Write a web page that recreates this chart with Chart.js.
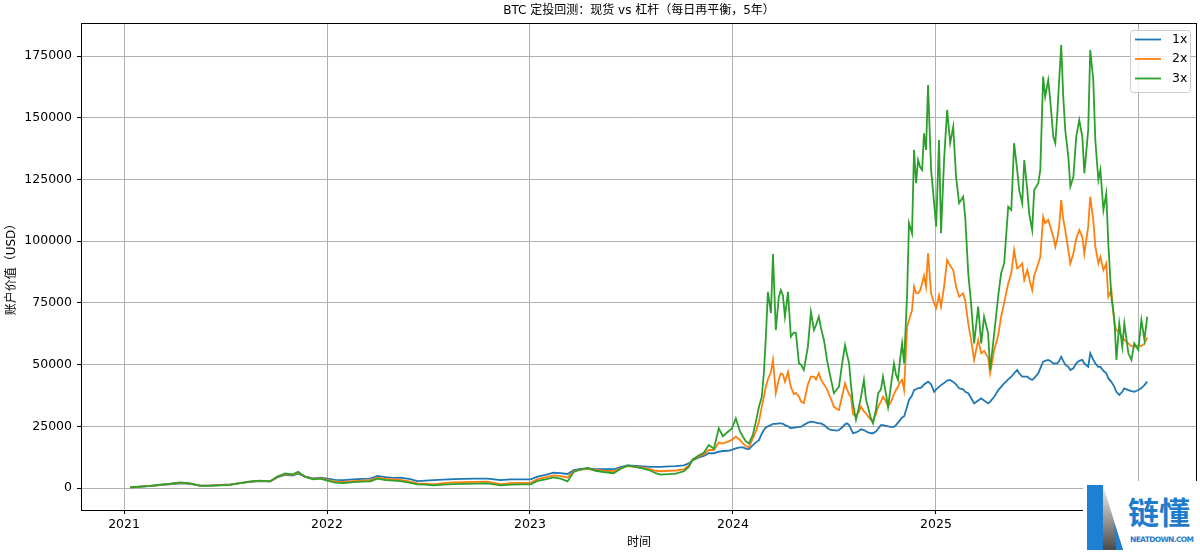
<!DOCTYPE html>
<html>
<head>
<meta charset="utf-8">
<script src="https://cdn.jsdelivr.net/npm/chart.js@4.4.1/dist/chart.umd.min.js"></script>
<style>
  html, body { margin: 0; padding: 0; background: #fff; }
  #wrap { position: relative; width: 1200px; height: 554px; }
  #logo { position: absolute; left: 1083px; top: 481px; width: 117px; height: 73px; background: #fff; }
</style>
</head>
<body>
<div id="wrap">
  <canvas id="chart"></canvas>
  <div id="logo">
    <svg width="117" height="73" viewBox="0 0 117 73">
      <defs>
        <linearGradient id="lg" x1="0" y1="0" x2="0" y2="1">
          <stop offset="0" stop-color="#f2f2f2"/>
          <stop offset="1" stop-color="#4a4a4a"/>
        </linearGradient>
      </defs>
      <polygon points="20,4 40,69 12,69 12,30" fill="url(#lg)"/>
      <rect x="4" y="4" width="16" height="65" fill="#1e80d2"/>
      <polygon points="31,42 40,69 33,69" fill="#1e80d2"/>
      <text x="45" y="43" font-size="31" font-weight="bold" fill="#1f7ccc" font-family="Noto Sans CJK SC">链懂</text>
      <text x="47" y="61" font-size="7.5" font-weight="bold" fill="#1f7ccc" font-family="DejaVu Sans" textLength="64">NEATDOWN.COM</text>
    </svg>
  </div>
</div>
<script>
// time in decimal years, account value in USD
const years = [
  2021.030, 2021.079, 2021.128, 2021.178, 2021.227, 2021.276, 2021.326, 2021.375, 2021.424, 2021.474,
  2021.523, 2021.572, 2021.622, 2021.671, 2021.720, 2021.755, 2021.794, 2021.829, 2021.858, 2021.893,
  2021.932, 2021.967, 2022.001, 2022.041, 2022.080, 2022.130, 2022.174, 2022.214, 2022.248, 2022.288,
  2022.327, 2022.362, 2022.411, 2022.445, 2022.485, 2022.524, 2022.574, 2022.623, 2022.672, 2022.731,
  2022.791, 2022.855, 2022.904, 2022.953, 2023.003, 2023.037, 2023.077, 2023.116, 2023.151, 2023.185,
  2023.215, 2023.249, 2023.284, 2023.323, 2023.363, 2023.412, 2023.447, 2023.481, 2023.521, 2023.555,
  2023.595, 2023.619, 2023.644, 2023.684, 2023.718, 2023.758, 2023.782, 2023.802, 2023.827, 2023.856,
  2023.881, 2023.906, 2023.930, 2023.950, 2023.975, 2023.994, 2024.014, 2024.034, 2024.049, 2024.063,
  2024.078, 2024.098, 2024.113, 2024.128, 2024.142, 2024.152, 2024.162, 2024.172, 2024.187, 2024.197,
  2024.211, 2024.226, 2024.236, 2024.246, 2024.256, 2024.271, 2024.285, 2024.300, 2024.310, 2024.325,
  2024.335, 2024.349, 2024.369, 2024.384, 2024.399, 2024.409, 2024.423, 2024.433, 2024.448, 2024.463,
  2024.473, 2024.488, 2024.497, 2024.512, 2024.522, 2024.537, 2024.552, 2024.562, 2024.572, 2024.581,
  2024.591, 2024.606, 2024.621, 2024.631, 2024.645, 2024.655, 2024.665, 2024.680, 2024.690, 2024.705,
  2024.715, 2024.729, 2024.739, 2024.754, 2024.764, 2024.779, 2024.793, 2024.803, 2024.813, 2024.823,
  2024.833, 2024.843, 2024.858, 2024.867, 2024.882, 2024.892, 2024.902, 2024.912, 2024.922, 2024.932,
  2024.941, 2024.951, 2024.961, 2024.976, 2024.991, 2025.001, 2025.015, 2025.025, 2025.040, 2025.055,
  2025.070, 2025.085, 2025.099, 2025.114, 2025.134, 2025.144, 2025.159, 2025.173, 2025.188, 2025.208,
  2025.223, 2025.237, 2025.257, 2025.267, 2025.287, 2025.307, 2025.321, 2025.336, 2025.356, 2025.371,
  2025.385, 2025.400, 2025.410, 2025.425, 2025.435, 2025.450, 2025.459, 2025.474, 2025.484, 2025.504,
  2025.514, 2025.528, 2025.538, 2025.553, 2025.563, 2025.578, 2025.588, 2025.598, 2025.607, 2025.617,
  2025.627, 2025.637, 2025.652, 2025.662, 2025.677, 2025.691, 2025.706, 2025.721, 2025.731, 2025.750,
  2025.760, 2025.775, 2025.785, 2025.800, 2025.810, 2025.825, 2025.839, 2025.849, 2025.864, 2025.879,
  2025.889, 2025.903, 2025.918, 2025.928, 2025.948, 2025.963, 2025.977, 2025.997, 2026.012, 2026.027, 2026.041
];

const spot1x = [
  300, 600, 800, 1200, 1500, 1900, 1700, 1000, 1100, 1300,
  1500, 2000, 2500, 2800, 2700, 4300, 5300, 5000, 5800, 4600,
  3900, 4200, 3800, 3300, 3200, 3500, 3700, 3800, 4900, 4400,
  4100, 4200, 3600, 2800, 3000, 3200, 3400, 3600, 3700, 3800,
  3800, 3200, 3500, 3500, 3500, 4600, 5300, 6200, 6000, 5700,
  7300, 7800, 8000, 7700, 7600, 7600, 8500, 9200, 9000, 8800,
  8600, 8600, 8600, 8800, 8900, 9200, 10000, 11300, 12200, 13000,
  14100, 14100, 14700, 15000, 15100, 15500, 16100, 16500, 16500, 16000,
  15700, 17400, 18500, 19400, 22000, 23500, 24500, 25000, 25500, 26000,
  26000, 26200, 26200, 26000, 25500, 25000, 24200, 24500, 24600, 24800,
  24800, 25500, 26500, 26900, 26700, 26500, 26200, 26200, 25500, 24500,
  23800, 23500, 23500, 23300, 23500, 24500, 25800, 26200, 25500, 24000,
  22200, 22500, 23200, 23800, 23500, 23000, 22500, 22200, 22200, 23000,
  24000, 25500, 25500, 25200, 25000, 24800, 24800, 25500, 26500, 27500,
  28600, 29000, 33000, 35700, 37500, 39700, 40000, 40500, 40500, 41000,
  42000, 42500, 43100, 42000, 39000, 40000, 41000, 41700, 42500, 43500,
  43800, 43000, 42000, 40400, 40000, 39000, 38400, 36500, 34300, 35500,
  36300, 35500, 34300, 35000, 37000, 39700, 41000, 42400, 44000, 45100,
  46500, 47800, 46500, 45100, 45100, 45100, 44500, 43800, 44500, 46500,
  48500, 51200, 51500, 51900, 51500, 50500, 50500, 50500, 51500, 53200,
  51500, 50000, 49100, 47800, 48500, 50500, 51500, 51900, 50500, 49100,
  54600, 52000, 50500, 49100, 49100, 47500, 46500, 44500, 43000, 41000,
  39000, 37700, 39000, 40400, 39700, 39300, 39000, 39700, 40500, 41700, 43100
];

const lev2x = [
  300, 600, 850, 1300, 1650, 2100, 1800, 950, 1000, 1200,
  1400, 2000, 2600, 2900, 2700, 4500, 5600, 5300, 6200, 4600,
  3700, 4000, 3300, 2600, 2500, 2800, 3000, 3200, 4200, 3700,
  3500, 3300, 2600, 1900, 1800, 1500, 2000, 2300, 2400, 2500,
  2600, 1600, 2000, 2100, 2100, 3600, 4300, 5100, 4800, 4300,
  6800, 7500, 7800, 7300, 7000, 6800, 8000, 8900, 8600, 8300,
  7600, 7000, 6800, 7000, 7100, 7600, 9000, 11600, 12600, 13700,
  15400, 15400, 18400, 18000, 18800, 19500, 20800, 19500, 18100, 17000,
  16500, 20100, 23000, 26900, 33000, 37000, 41000, 44000, 47000, 51900,
  38400, 44000, 46500, 46000, 43000, 47000, 41000, 38000, 38500, 37000,
  35000, 34400, 42000, 45100, 45100, 44000, 46500, 44000, 42000, 40000,
  38000, 35000, 32900, 32000, 31600, 37000, 42400, 40000, 38000, 37000,
  30000, 28900, 31000, 33000, 31000, 30300, 29000, 27600, 27600, 30000,
  33000, 35000, 37000, 35000, 33000, 35000, 38000, 39700, 41000, 43000,
  43800, 39700, 65400, 68000, 72000, 81600, 79000, 78900, 80000, 83000,
  86000, 81600, 95100, 78900, 74800, 73000, 78000, 73500, 81600, 92400,
  90000, 88300, 81600, 77500, 78900, 76000, 66700, 60000, 51900, 60000,
  54600, 55500, 53000, 46500, 55900, 62000, 69400, 75000, 82900, 87000,
  96400, 89000, 89500, 91000, 84300, 88300, 85000, 80200, 86000, 91000,
  93700, 109900, 107300, 108600, 106000, 101800, 97800, 101000, 106000, 116700,
  109000, 104500, 96400, 91000, 95000, 101000, 104500, 101800, 95000, 105900,
  118000, 108600, 98000, 91000, 93700, 88300, 91000, 77500, 80200, 66700,
  64000, 63000, 61300, 60000, 58600, 57500, 57200, 57900, 57500, 58500, 61000
];

const lev3x = [
  300, 600, 900, 1400, 1800, 2300, 1900, 900, 900, 1100,
  1300, 2000, 2700, 3000, 2700, 4700, 5900, 5500, 6600, 4500,
  3500, 3800, 3000, 2200, 2000, 2400, 2600, 2700, 3800, 3200,
  3000, 2800, 2100, 1500, 1400, 1100, 1400, 1600, 1700, 1800,
  1900, 1100, 1400, 1500, 1500, 2900, 3500, 4300, 3800, 2700,
  6500, 7500, 8100, 7000, 6500, 6000, 7800, 9200, 8500, 8000,
  7000, 6000, 5400, 5600, 5800, 6800, 8500, 11600, 13000, 14300,
  17400, 15900, 24200, 21000, 22800, 24000, 28200, 23000, 20800, 19000,
  18100, 21500, 27000, 32900, 37000, 46500, 61300, 79500, 70900, 94800,
  64000, 77500, 80200, 78000, 69400, 79500, 61300, 63000, 62800, 50500,
  50000, 47800, 57200, 71400, 64000, 66000, 69400, 65000, 60000, 52000,
  47800, 42000, 38400, 40000, 41000, 50000, 57900, 54000, 50500, 42000,
  34300, 27600, 33000, 37000, 43800, 36000, 32900, 28000, 26200, 32000,
  38400, 40000, 45100, 38000, 32900, 42000, 50500, 46000, 43800, 52000,
  58600, 50500, 78900, 107300, 103200, 137000, 123500, 132900, 130000, 128900,
  143700, 137000, 163300, 128900, 115400, 105900, 141000, 103200, 132900, 153200,
  139700, 146400, 126100, 115400, 118000, 109900, 87000, 74800, 58600, 73500,
  58600, 69400, 62700, 47800, 62700, 78000, 87000, 91000, 114000, 112600,
  139700, 128900, 120700, 115400, 132900, 120700, 111300, 104500, 120700, 123500,
  128900, 166700, 158600, 165300, 157200, 142300, 139700, 151800, 165300, 179500,
  158600, 145000, 134200, 122100, 126100, 142300, 149100, 142300, 127500, 145000,
  177500, 165300, 141000, 124800, 128900, 112600, 119400, 99100, 77500, 68100,
  51900, 66700, 57200, 66700, 54600, 51900, 58600, 55900, 68100, 60000, 69400
];

const seriesLabels = ["1x", "2x", "3x"];
const seriesColors = ["#1f77b4", "#ff7f0e", "#2ca02c"];
const xTicks = [2021, 2022, 2023, 2024, 2025, 2026];
const yTicks = [0, 25000, 50000, 75000, 100000, 125000, 150000, 175000];
const titleText = "BTC 定投回测：现货 vs 杠杆（每日再平衡，5年）";

const FONT = "'DejaVu Sans', 'Noto Sans CJK SC', sans-serif";
Chart.defaults.font.family = FONT;
Chart.defaults.color = "#000";

// matplotlib-like frame, title and in-axes legend
const mplDecor = {
    id: "mplDecor",
    afterDraw(chart) {
        const { ctx } = chart;
        const { left, top, right, bottom } = chart.chartArea;
        ctx.save();
        ctx.strokeStyle = "#000";
        ctx.lineWidth = 1;
        ctx.strokeRect(Math.round(left) + 0.5, Math.round(top) + 0.5,
            Math.round(right - left) - 1, Math.round(bottom - top));

        ctx.fillStyle = "#000";
        ctx.font = "12px " + FONT;
        ctx.textAlign = "center";
        ctx.textBaseline = "middle";
        ctx.fillText(titleText, (left + right) / 2, 11);

        // legend box, upper right
        const bw = 60, bh = 62;
        const bx = right - 7 - bw, by = top + 7;
        ctx.beginPath();
        ctx.roundRect(bx + 0.5, by + 0.5, bw, bh, 3);
        ctx.fillStyle = "rgba(255,255,255,0.8)";
        ctx.fill();
        ctx.strokeStyle = "#cccccc";
        ctx.stroke();
        ctx.font = "12.5px " + FONT;
        ctx.textAlign = "left";
        seriesLabels.forEach((label, i) => {
            const ly = by + 9.5 + i * 19.5;
            ctx.beginPath();
            ctx.moveTo(bx + 5, ly);
            ctx.lineTo(bx + 31, ly);
            ctx.strokeStyle = seriesColors[i];
            ctx.lineWidth = 1.8;
            ctx.stroke();
            ctx.fillStyle = "#000";
            ctx.fillText(label, bx + 42, ly);
        });
        ctx.restore();
    },
};

const seriesValues = [spot1x, lev2x, lev3x];
const datasets = seriesValues.map((vals, s) => ({
    label: seriesLabels[s],
    data: years.map((t, i) => ({ x: t, y: vals[i] })),
    borderColor: seriesColors[s],
    backgroundColor: seriesColors[s],
    borderWidth: 1.8,
    pointRadius: 0,
    tension: 0,
    fill: false,
    // later series on top, as in matplotlib
    order: 3 - s,
}));

new Chart(document.getElementById("chart"), {
    type: "line",
    data: { datasets },
    options: {
        responsive: true,
        maintainAspectRatio: false,
        animation: false,
        layout: { padding: { top: 23, right: 3, left: 0, bottom: 0 } },
        plugins: {
            legend: { display: false },
            tooltip: { enabled: false },
            title: { display: false },
        },
        scales: {
            x: {
                type: "linear",
                min: 2020.788,
                max: 2026.286,
                afterBuildTicks: (scale) => {
                    scale.ticks = xTicks.map((v) => ({ value: v }));
                },
                afterFit: (scale) => {
                    scale.height = 44;
                },
                ticks: {
                    autoSkip: false,
                    maxRotation: 0,
                    padding: 3,
                    color: "#000",
                    font: { size: 12.5 },
                    callback: (v) => String(v),
                },
                grid: { color: "#b0b0b0", lineWidth: 1, tickColor: "#000", tickLength: 4 },
                border: { color: "#000", width: 1 },
                title: {
                    display: true,
                    text: "时间",
                    color: "#000",
                    font: { size: 12 },
                    padding: { top: 6, bottom: 4 },
                },
            },
            y: {
                type: "linear",
                min: -8900,
                max: 188400,
                afterBuildTicks: (scale) => {
                    scale.ticks = yTicks.map((v) => ({ value: v }));
                },
                afterFit: (scale) => {
                    scale.width = 81;
                },
                ticks: {
                    padding: 5,
                    color: "#000",
                    font: { size: 12.5 },
                    callback: (v) => String(v),
                },
                grid: { color: "#b0b0b0", lineWidth: 1, tickColor: "#000", tickLength: 4 },
                border: { color: "#000", width: 1 },
                title: {
                    display: true,
                    text: "账户价值（USD）",
                    color: "#000",
                    font: { size: 12 },
                    padding: { top: 5, bottom: 0 },
                },
            },
        },
    },
    plugins: [mplDecor],
});
</script>
</body>
</html>
